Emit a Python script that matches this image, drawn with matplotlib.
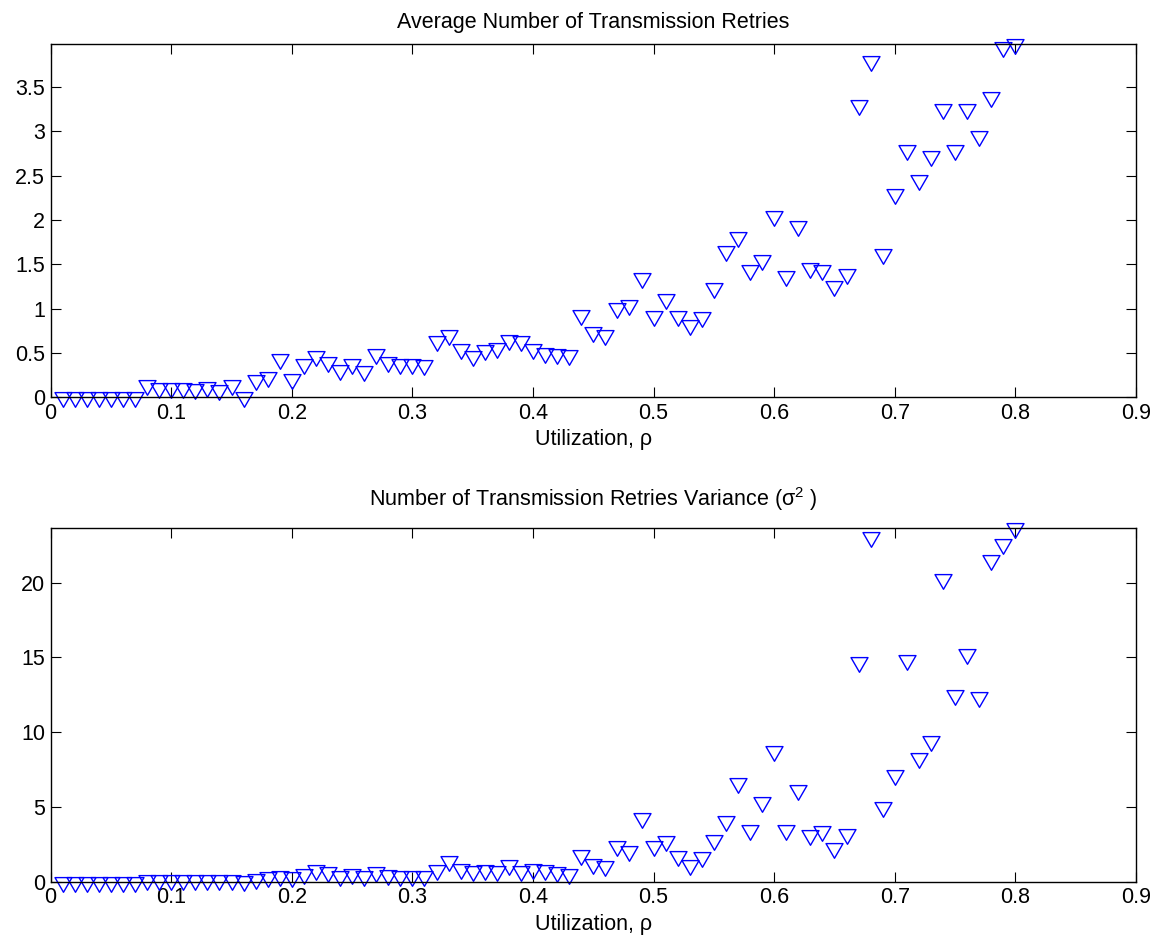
import numpy as np
import matplotlib
matplotlib.use('Agg')
import matplotlib.pyplot as plt
from matplotlib.path import Path
from matplotlib.ticker import FuncFormatter

plt.rcParams['font.family'] = ['Liberation Sans', 'DejaVu Sans']
plt.rcParams['mathtext.fontset'] = 'custom'
plt.rcParams['mathtext.rm'] = 'Liberation Sans'
plt.rcParams['mathtext.it'] = 'Liberation Sans'

# utilization rho = 0.01 ... 0.80
rho = [round(0.01 * i, 2) for i in range(1, 81)]

avg_retries = [0, 0, 0, 0, 0, 0, 0, 0.14, 0.11, 0.11,
               0.10, 0.09, 0.12, 0.08, 0.14, 0.0, 0.19, 0.23, 0.43, 0.21,
               0.37, 0.47, 0.40, 0.31, 0.37, 0.30, 0.49, 0.40, 0.38, 0.38,
               0.36, 0.63, 0.70, 0.54, 0.46, 0.53, 0.56, 0.65, 0.63, 0.55,
               0.50, 0.49, 0.48, 0.93, 0.74, 0.70, 1.01, 1.04, 1.35, 0.92,
               1.11, 0.92, 0.82, 0.90, 1.23, 1.65, 1.81, 1.43, 1.55, 2.04,
               1.37, 1.93, 1.46, 1.43, 1.25, 1.39, 3.30, 3.79, 1.61, 2.29,
               2.79, 2.45, 2.72, 3.25, 2.79, 3.25, 2.95, 3.38, 3.95, 3.98]

var_retries = [0, 0, 0, 0, 0, 0, 0, 0.09, 0.09, 0.09,
               0.09, 0.09, 0.09, 0.09, 0.09, 0.05, 0.18, 0.30, 0.38, 0.27,
               0.50, 0.76, 0.65, 0.35, 0.50, 0.35, 0.65, 0.45, 0.40, 0.40,
               0.40, 0.75, 1.35, 0.87, 0.68, 0.75, 0.68, 1.10, 0.68, 0.82,
               0.76, 0.66, 0.48, 1.80, 1.18, 1.02, 2.35, 2.02, 4.25, 2.35,
               2.68, 1.73, 1.08, 1.63, 2.77, 4.06, 6.61, 3.42, 5.29, 8.72,
               3.46, 6.10, 3.14, 3.39, 2.27, 3.20, 14.72, 23.07, 4.97, 7.11,
               14.82, 8.30, 9.38, 20.22, 12.51, 15.22, 12.37, 21.53, 22.62, 23.63]

# down triangle, data point at centroid (like matlab 'v')
tri = Path([(-8.5, 4.9), (8.5, 4.9), (0, -9.8), (-8.5, 4.9)],
           [Path.MOVETO, Path.LINETO, Path.LINETO, Path.CLOSEPOLY])

fig = plt.figure(figsize=(11.62, 9.5), dpi=100)
ax1 = fig.add_axes([0.0436, 0.5818, 0.934, 0.3716])
ax2 = fig.add_axes([0.0436, 0.0721, 0.934, 0.3716])

fmt = FuncFormatter(lambda v, p: '%g' % round(v, 3))
fs = 15.5

for ax, data, top, yt in [(ax1, avg_retries, 3.98, np.arange(0, 3.51, 0.5)),
                          (ax2, var_retries, 23.63, [0, 5, 10, 15, 20])]:
    ax.plot(rho, data, linestyle='none', marker=tri, markersize=14.1,
            markerfacecolor='none', markeredgecolor='#0000ff',
            markeredgewidth=1.0, clip_on=False)
    ax.set_xlim(0, 0.9)
    ax.set_ylim(0, top)
    ax.set_xticks(np.arange(0, 0.91, 0.1))
    ax.set_yticks(yt)
    ax.xaxis.set_major_formatter(fmt)
    ax.yaxis.set_major_formatter(fmt)
    ax.tick_params(direction='in', length=7.5, width=0.8, labelsize=fs,
                   top=True, right=True, pad=4)
    for s in ax.spines.values():
        s.set_linewidth(1.0)
    ax.set_xlabel('Utilization, ρ', fontsize=fs, labelpad=4)

ax1.set_title('Average Number of Transmission Retries', fontsize=fs, pad=12)
ax2.set_title('Number of Transmission Retries Variance (σ$^{2}$ )', fontsize=fs, pad=16)

fig.savefig('out.png', dpi=100)
